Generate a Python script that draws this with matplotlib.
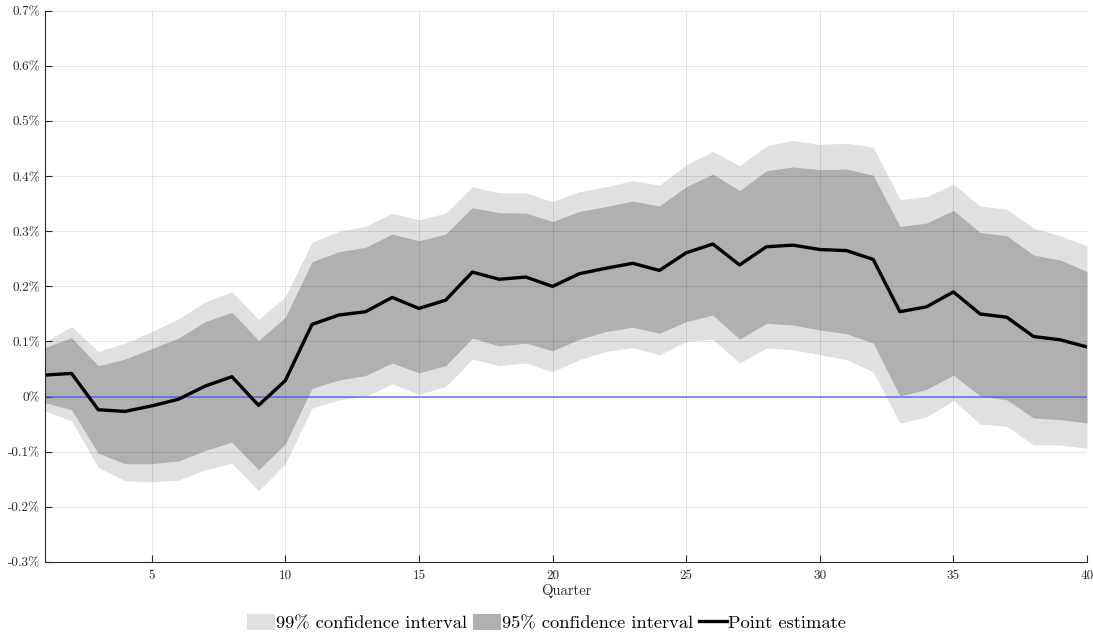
import matplotlib
matplotlib.use("Agg")
import matplotlib.pyplot as plt
from matplotlib.patches import Patch
from matplotlib.lines import Line2D

plt.rcParams["font.family"] = "serif"
plt.rcParams["font.serif"] = ["cmr10", "DejaVu Serif"]
plt.rcParams["mathtext.fontset"] = "cm"
plt.rcParams["axes.unicode_minus"] = False

quarters = list(range(1, 41))

# Impulse response (percent)
point_estimate = [0.039, 0.042, -0.024, -0.027, -0.017, -0.005, 0.019, 0.036, -0.016, 0.029,
                  0.131, 0.148, 0.154, 0.180, 0.160, 0.175, 0.226, 0.213, 0.217, 0.200,
                  0.223, 0.233, 0.242, 0.229, 0.261, 0.277, 0.239, 0.272, 0.275, 0.267,
                  0.265, 0.249, 0.154, 0.163, 0.190, 0.150, 0.144, 0.109, 0.103, 0.090]

ci95_upper = [0.089, 0.107, 0.056, 0.068, 0.087, 0.106, 0.136, 0.153, 0.102, 0.144,
              0.245, 0.263, 0.271, 0.295, 0.283, 0.295, 0.343, 0.334, 0.333, 0.318,
              0.336, 0.345, 0.355, 0.346, 0.381, 0.404, 0.374, 0.410, 0.417, 0.412,
              0.413, 0.402, 0.309, 0.315, 0.338, 0.298, 0.292, 0.257, 0.248, 0.227]

ci95_lower = [-0.011, -0.024, -0.103, -0.122, -0.122, -0.117, -0.098, -0.083, -0.133, -0.086,
              0.015, 0.030, 0.038, 0.061, 0.043, 0.056, 0.106, 0.092, 0.097, 0.083,
              0.104, 0.118, 0.126, 0.115, 0.136, 0.148, 0.104, 0.133, 0.130, 0.121,
              0.114, 0.097, 0.001, 0.013, 0.039, 0.001, -0.006, -0.039, -0.042, -0.048]

ci99_upper = [0.099, 0.127, 0.082, 0.097, 0.118, 0.141, 0.172, 0.190, 0.140, 0.181,
              0.280, 0.300, 0.309, 0.333, 0.321, 0.333, 0.381, 0.370, 0.370, 0.354,
              0.372, 0.381, 0.392, 0.384, 0.421, 0.445, 0.419, 0.455, 0.465, 0.458,
              0.460, 0.453, 0.358, 0.363, 0.386, 0.346, 0.340, 0.306, 0.292, 0.274]

ci99_lower = [-0.026, -0.044, -0.129, -0.153, -0.155, -0.152, -0.133, -0.121, -0.171, -0.122,
              -0.021, -0.006, 0.000, 0.023, 0.004, 0.018, 0.068, 0.056, 0.061, 0.045,
              0.067, 0.082, 0.089, 0.076, 0.100, 0.104, 0.061, 0.088, 0.085, 0.076,
              0.067, 0.045, -0.048, -0.037, -0.007, -0.050, -0.054, -0.088, -0.088, -0.094]

y_ticks = [-0.3, -0.2, -0.1, 0.0, 0.1, 0.2, 0.3, 0.4, 0.5, 0.6, 0.7]
y_tick_labels = ["-0.3%", "-0.2%", "-0.1%", "0%", "0.1%", "0.2%", "0.3%",
                 "0.4%", "0.5%", "0.6%", "0.7%"]
x_ticks = [5, 10, 15, 20, 25, 30, 35, 40]

c99 = "#e0e0e0"
c95 = "#b0b0b0"

fig = plt.figure(figsize=(10.93, 6.34), dpi=100)
ax = fig.add_axes([0.041, 0.114, 0.9535, 0.8685])

ax.fill_between(quarters, ci99_lower, ci99_upper, color=c99, linewidth=0, zorder=1)
ax.fill_between(quarters, ci95_lower, ci95_upper, color=c95, linewidth=0, zorder=2)
ax.axhline(0, color="#5555ff", linewidth=1.1, alpha=0.85, zorder=3)
ax.plot(quarters, point_estimate, color="black", linewidth=2.4, zorder=4)

ax.set_xlim(1, 40)
ax.set_ylim(-0.3, 0.7)
ax.set_xticks(x_ticks)
ax.set_yticks(y_ticks)
ax.set_yticklabels(y_tick_labels)
ax.tick_params(direction="in", length=5, width=0.8, colors="#262626", labelsize=9.5)
ax.tick_params(axis="x", pad=6)
ax.grid(True, color="black", alpha=0.1, linewidth=0.7, zorder=5)
ax.set_axisbelow(False)
for side in ("top", "right"):
    ax.spines[side].set_visible(False)
for side in ("left", "bottom"):
    ax.spines[side].set_color("#262626")
    ax.spines[side].set_linewidth(0.8)
    ax.spines[side].set_zorder(6)

ax.set_xlabel("Quarter", fontsize=10.5, color="#262626", labelpad=1)

handles = [Patch(facecolor=c99, edgecolor="none"),
           Patch(facecolor=c95, edgecolor="none"),
           Line2D([0], [0], color="black", linewidth=2.4)]
labels = ["99% confidence interval", "95% confidence interval", "Point estimate"]
fig.legend(handles, labels, loc="center", bbox_to_anchor=(0.5, 0.018), ncol=3,
           frameon=False, fontsize=13.3, handlelength=1.5, handleheight=0.95,
           handletextpad=0.08, columnspacing=0.32, borderpad=0.1)

fig.savefig("out.png", dpi=100)
